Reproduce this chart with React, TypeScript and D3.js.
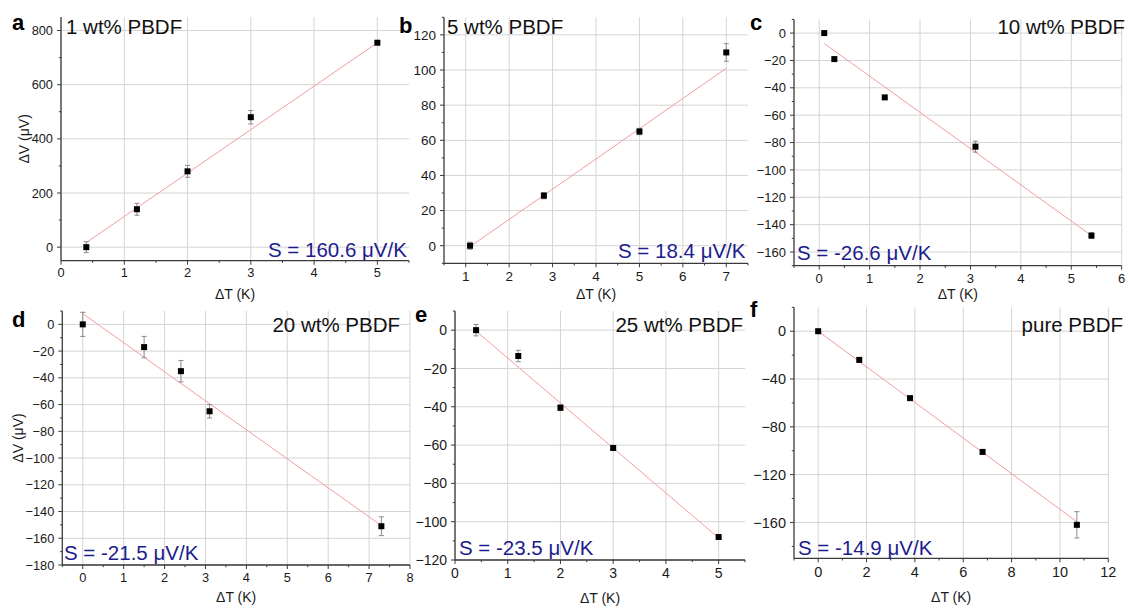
import React from "react";
import * as d3 from "d3";

// ---------- data ----------
const letters = ["a", "b", "c", "d", "e", "f"];
const titles = ["1 wt% PBDF", "5 wt% PBDF", "10 wt% PBDF", "20 wt% PBDF", "25 wt% PBDF", "pure PBDF"];
const seebeck = ["S = 160.6 μV/K", "S = 18.4 μV/K", "S = -26.6 μV/K", "S = -21.5 μV/K", "S = -23.5 μV/K", "S = -14.9 μV/K"];

const dT_a = [0.4, 1.2, 2, 3, 5];
const dV_a = [0, 140, 280, 480, 755];
const err_a = [20, 22, 22, 25, 5];
const fitX_a = [0.4, 5];
const fitY_a = [17, 755];

const dT_b = [1.1, 2.8, 5, 7];
const dV_b = [0, 28.5, 65, 110];
const err_b = [2, 1.8, 1.8, 5];
const fitX_b = [1.1, 7];
const fitY_b = [-0.5, 101];

const dT_c = [0.1, 0.3, 1.3, 3.1, 5.4];
const dV_c = [0, -19, -47, -83, -148];
const err_c = [1.2, 1.2, 1.5, 4, 2];
const fitX_c = [0.1, 5.4];
const fitY_c = [-7.6, -148];

const dT_d = [0, 1.5, 2.4, 3.1, 7.3];
const dV_d = [0, -17, -35, -65, -151];
const err_d = [9, 8, 8, 5, 7];
const fitX_d = [0, 7.3];
const fitY_d = [8, -150.5];

const dT_e = [0.4, 1.2, 2, 3, 5];
const dV_e = [0, -13.5, -40.5, -61.5, -108];
const err_e = [3, 3, 1.5, 1, 1];
const fitX_e = [0.4, 5];
const fitY_e = [-0.5, -108.5];

const dT_f = [0, 1.7, 3.8, 6.8, 10.7];
const dV_f = [0, -24, -56, -101, -162];
const err_f = [1, 1.5, 1.5, 1.5, 11];
const fitX_f = [0, 10.7];
const fitY_f = [0, -159.4];

const xTicks_a = [0, 1, 2, 3, 4, 5];
const yTicks_a = [0, 200, 400, 600, 800];
const xTicks_b = [1, 2, 3, 4, 5, 6, 7];
const yTicks_b = [0, 20, 40, 60, 80, 100, 120];
const xTicks_c = [0, 1, 2, 3, 4, 5, 6];
const yTicks_c = [0, -20, -40, -60, -80, -100, -120, -140, -160];
const xTicks_d = [0, 1, 2, 3, 4, 5, 6, 7, 8];
const yTicks_d = [0, -20, -40, -60, -80, -100, -120, -140, -160, -180];
const xTicks_e = [0, 1, 2, 3, 4, 5];
const yTicks_e = [0, -20, -40, -60, -80, -100, -120];
const xTicks_f = [0, 2, 4, 6, 8, 10, 12];
const yTicks_f = [0, -40, -80, -120, -160];

const xLabel = "ΔT (K)";
const yLabel = "ΔV (μV)";

// ---------- layout ----------
const FONT = "'Liberation Sans', Arial, Helvetica, sans-serif";

const panels = [
  {
    dT: dT_a, dV: dV_a, err: err_a, fitX: fitX_a, fitY: fitY_a, xTicks: xTicks_a, yTicks: yTicks_a,
    xDomain: [0, 5.5], yDomain: [-50, 850], xMinor: 0.5, yMinor: 100,
    left: 61, right: 409, top: 17, bottom: 260.7, tickFont: 12.8,
    letterPos: [12, 30], titlePos: [66, 34, "start"], sPos: [268, 257], xLabelY: 299, yLabelX: 24,
  },
  {
    dT: dT_b, dV: dV_b, err: err_b, fitX: fitX_b, fitY: fitY_b, xTicks: xTicks_b, yTicks: yTicks_b,
    xDomain: [0.5, 7.5], yDomain: [-10, 130], xMinor: 0.5, yMinor: 10,
    left: 444, right: 748, top: 17.3, bottom: 263.3, tickFont: 13.5,
    letterPos: [399, 33], titlePos: [447, 34, "start"], sPos: [618, 258], xLabelY: 299, yLabelX: null,
  },
  {
    dT: dT_c, dV: dV_c, err: err_c, fitX: fitX_c, fitY: fitY_c, xTicks: xTicks_c, yTicks: yTicks_c,
    xDomain: [-0.5, 6], yDomain: [-170, 10], xMinor: 0.5, yMinor: 10,
    left: 794, right: 1121.7, top: 19.4, bottom: 265.7, tickFont: 13,
    letterPos: [750, 30], titlePos: [1125, 34, "end"], sPos: [797, 260], xLabelY: 299, yLabelX: null,
  },
  {
    dT: dT_d, dV: dV_d, err: err_d, fitX: fitX_d, fitY: fitY_d, xTicks: xTicks_d, yTicks: yTicks_d,
    xDomain: [-0.5, 8], yDomain: [-180, 10], xMinor: 0.5, yMinor: 10,
    left: 62.3, right: 410, top: 311, bottom: 565, tickFont: 12.8,
    letterPos: [12, 327], titlePos: [400, 332, "end"], sPos: [64, 560], xLabelY: 602, yLabelX: 18,
  },
  {
    dT: dT_e, dV: dV_e, err: err_e, fitX: fitX_e, fitY: fitY_e, xTicks: xTicks_e, yTicks: yTicks_e,
    xDomain: [0, 5.5], yDomain: [-120, 10], xMinor: 0.5, yMinor: 10,
    left: 455, right: 745, top: 311, bottom: 560, tickFont: 14,
    letterPos: [415, 322], titlePos: [743, 332, "end"], sPos: [459, 555], xLabelY: 603, yLabelX: null,
  },
  {
    dT: dT_f, dV: dV_f, err: err_f, fitX: fitX_f, fitY: fitY_f, xTicks: xTicks_f, yTicks: yTicks_f,
    xDomain: [-1, 12], yDomain: [-190, 20], xMinor: 1, yMinor: 20,
    left: 794, right: 1108.3, top: 307.3, bottom: 558.3, tickFont: 14.5,
    letterPos: [750, 317], titlePos: [1123, 332, "end"], sPos: [798, 555], xLabelY: 602, yLabelX: null,
  },
];

const fmt = d3.format("d");

function minorTicks(domain: number[], step: number, majors: number[]) {
  const start = Math.ceil(domain[0] / step - 1e-9) * step;
  return d3
    .range(start, domain[1] + step * 1e-6, step)
    .filter((v) => !majors.some((m) => Math.abs(m - v) < 1e-9));
}

function Panel({ p, i }: { p: any; i: number }) {
  const x = d3.scaleLinear().domain(p.xDomain).range([p.left, p.right]);
  const y = d3.scaleLinear().domain(p.yDomain).range([p.bottom, p.top]);
  const xMin = minorTicks(p.xDomain, p.xMinor, p.xTicks);
  const yMin = minorTicks(p.yDomain, p.yMinor, p.yTicks);
  const line = d3
    .line<number>()
    .x((_, k) => x(p.fitX[k]))
    .y((v) => y(v));
  const pts = p.dT.map((t: number, k: number) => ({ t, v: p.dV[k], e: p.err[k] }));
  const axisColor = "#3a3a3a";
  const cx = (p.left + p.right) / 2;
  return (
    <g>
      {/* grid */}
      {p.xTicks.map((t: number) => (
        <line key={"gx" + t} x1={x(t)} x2={x(t)} y1={p.bottom} y2={p.top} stroke="#d4d4d4" strokeWidth={1} />
      ))}
      {p.yTicks.map((t: number) => (
        <line key={"gy" + t} x1={p.left} x2={p.right} y1={y(t)} y2={y(t)} stroke="#d4d4d4" strokeWidth={1} />
      ))}
      {/* fit line */}
      <path d={line(p.fitY) || ""} fill="none" stroke="#f59c9c" strokeWidth={1} />
      {/* error bars */}
      {pts.map((d: any, k: number) => (
        <g key={"e" + k} stroke="#8a8a8a" strokeWidth={1}>
          <line x1={x(d.t)} x2={x(d.t)} y1={y(d.v - d.e)} y2={y(d.v + d.e)} />
          <line x1={x(d.t) - 2.5} x2={x(d.t) + 2.5} y1={y(d.v - d.e)} y2={y(d.v - d.e)} />
          <line x1={x(d.t) - 2.5} x2={x(d.t) + 2.5} y1={y(d.v + d.e)} y2={y(d.v + d.e)} />
        </g>
      ))}
      {/* markers */}
      {pts.map((d: any, k: number) => (
        <rect key={"m" + k} x={x(d.t) - 3} y={y(d.v) - 3} width={6} height={6} fill="#000" />
      ))}
      {/* axes */}
      <line x1={p.left} x2={p.right} y1={p.bottom} y2={p.bottom} stroke={axisColor} strokeWidth={1.3} />
      <line x1={p.left} x2={p.left} y1={p.bottom} y2={p.top} stroke={axisColor} strokeWidth={1.3} />
      {p.xTicks.map((t: number) => (
        <g key={"xt" + t}>
          <line x1={x(t)} x2={x(t)} y1={p.bottom} y2={p.bottom + 4} stroke={axisColor} strokeWidth={1} />
          <text x={x(t)} y={p.bottom + p.tickFont + 3.8} textAnchor="middle" fontSize={p.tickFont} fill="#1a1a1a">
            {fmt(t)}
          </text>
        </g>
      ))}
      {xMin.map((t: number) => (
        <line key={"xm" + t} x1={x(t)} x2={x(t)} y1={p.bottom} y2={p.bottom + 2.2} stroke={axisColor} strokeWidth={1} />
      ))}
      {p.yTicks.map((t: number) => (
        <g key={"yt" + t}>
          <line x1={p.left - 4} x2={p.left} y1={y(t)} y2={y(t)} stroke={axisColor} strokeWidth={1} />
          <text x={p.left - 8} y={y(t)} dy="0.36em" textAnchor="end" fontSize={p.tickFont} fill="#1a1a1a">
            {fmt(t)}
          </text>
        </g>
      ))}
      {yMin.map((t: number) => (
        <line key={"ym" + t} x1={p.left - 2.2} x2={p.left} y1={y(t)} y2={y(t)} stroke={axisColor} strokeWidth={1} />
      ))}
      {/* axis titles */}
      <text x={cx} y={p.xLabelY} textAnchor="middle" fontSize={14} fill="#1a1a1a">
        {xLabel}
      </text>
      {p.yLabelX !== null && (
        <text
          transform={`translate(${p.yLabelX},${(p.top + p.bottom) / 2}) rotate(-90)`}
          dy="0.35em"
          textAnchor="middle"
          fontSize={14}
          fill="#1a1a1a"
        >
          {yLabel}
        </text>
      )}
      {/* labels */}
      <text x={p.letterPos[0]} y={p.letterPos[1]} fontSize={22} fontWeight="bold" fill="#000">
        {letters[i]}
      </text>
      <text x={p.titlePos[0]} y={p.titlePos[1]} textAnchor={p.titlePos[2]} fontSize={20.5} fill="#111">
        {titles[i]}
      </text>
      <text x={p.sPos[0]} y={p.sPos[1]} fontSize={20.5} fill="#1c1c8e">
        {seebeck[i]}
      </text>
    </g>
  );
}

export default function App() {
  return (
    <svg
      width={1128}
      height={608}
      style={{ position: "absolute", left: 0, top: 0, background: "#fff", fontFamily: FONT }}
    >
      <rect width={1128} height={608} fill="#fff" />
      {panels.map((p, i) => (
        <Panel key={i} p={p} i={i} />
      ))}
    </svg>
  );
}
